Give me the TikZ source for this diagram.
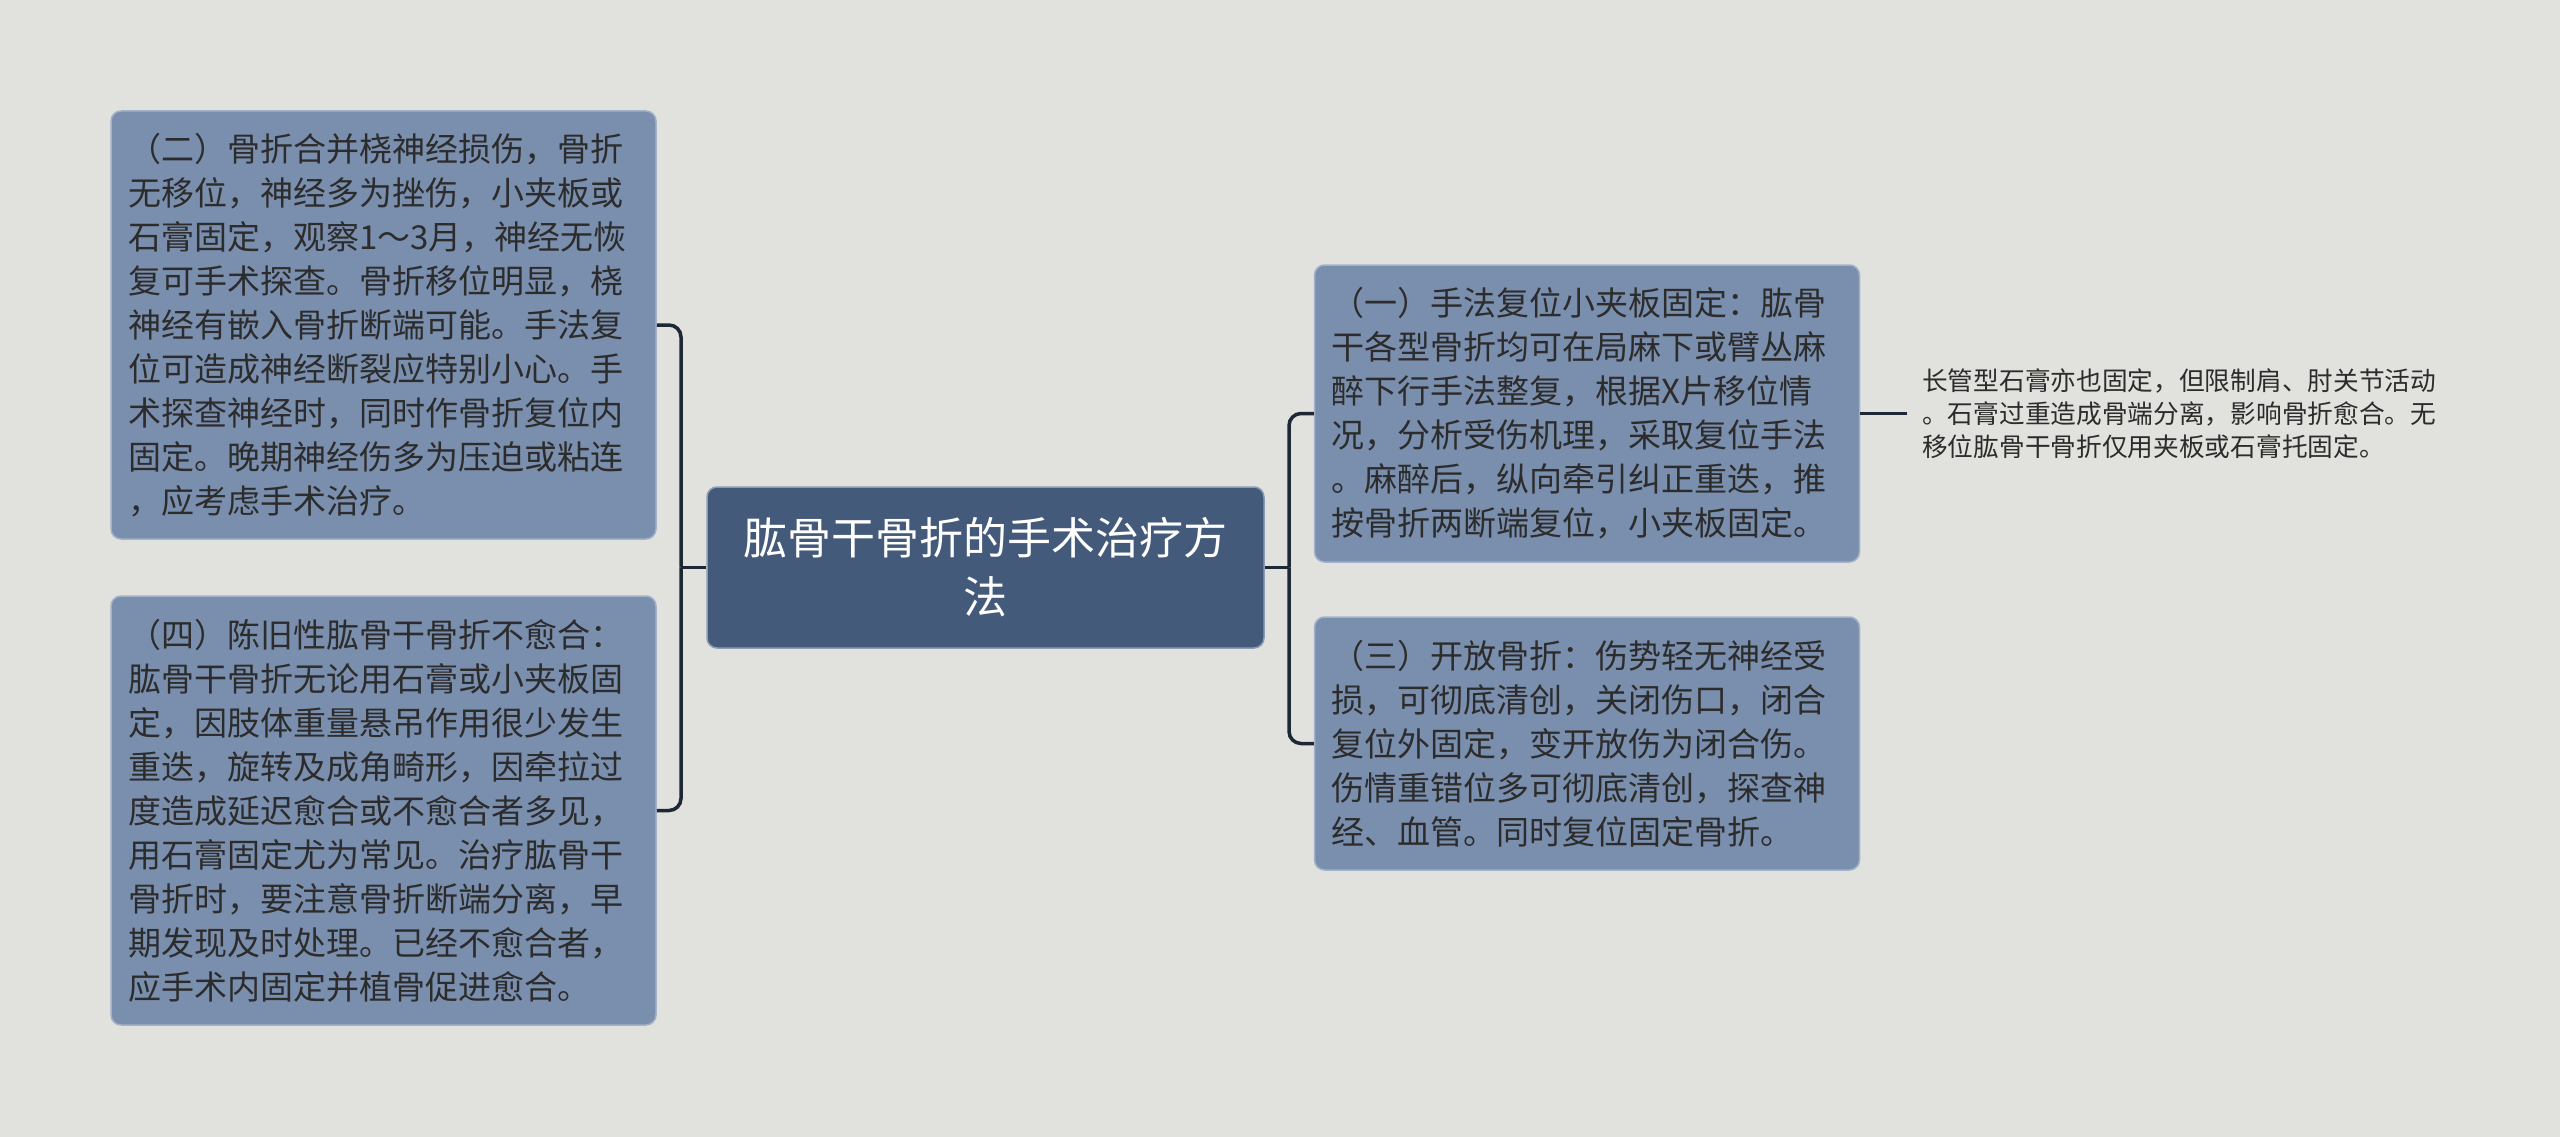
\documentclass[tikz,border=0pt]{standalone}
\usepackage{fontspec}
\setmainfont{Noto Sans CJK SC}
\definecolor{bgc}{HTML}{E1E2DE}
\definecolor{childfill}{HTML}{7A8EAD}
\definecolor{childline}{HTML}{A3B2C8}
\definecolor{rootfill}{HTML}{435A7A}
\definecolor{rootline}{HTML}{8C9CB5}
\definecolor{txt}{HTML}{2C2C2C}
\definecolor{conn}{HTML}{1D2735}
\tikzset{
  childbox/.style={rectangle, rounded corners=10pt, fill=childfill, draw=childline, line width=1.5pt,
    inner xsep=17pt, inner ysep=0pt, text width=511pt, minimum width=545pt, align=left, text=txt,
    font=\fontsize{33}{44}\selectfont},
  rootbox/.style={rectangle, rounded corners=10pt, fill=rootfill, draw=rootline, line width=1.5pt,
    inner xsep=20pt, inner ysep=0pt, text width=517pt, align=center, text=white,
    minimum height=161pt, font=\fontsize{44}{59}\selectfont},
  leaf/.style={rectangle, inner xsep=15pt, inner ysep=0pt, align=left, text=txt,
    font=\fontsize{25.7}{32.7}\selectfont},
  link/.style={draw=conn, line width=3.5pt},
  linkr/.style={link, rounded corners=12pt}
}
\begin{document}
\begin{tikzpicture}[x=1pt, y=-1pt]
\fill[bgc] (0,0) rectangle (2560,1137);
\useasboundingbox (0,0) rectangle (2560,1137);

\node[rootbox] (root) at (985.5,567.5) {肱骨干骨折的手术治疗方\\法};

\node[childbox, minimum height=428pt] (l1) at (383.5,325) {（二）骨折合并桡神经损伤，骨折\\无移位，神经多为挫伤，小夹板或\\石膏固定，观察1～3月，神经无恢\\复可手术探查。骨折移位明显，桡\\神经有嵌入骨折断端可能。手法复\\位可造成神经断裂应特别小心。手\\术探查神经时，同时作骨折复位内\\固定。晚期神经伤多为压迫或粘连\\，应考虑手术治疗。};

\node[childbox, minimum height=429pt] (l2) at (383.5,810.5) {（四）陈旧性肱骨干骨折不愈合：\\肱骨干骨折无论用石膏或小夹板固\\定，因肢体重量悬吊作用很少发生\\重迭，旋转及成角畸形，因牵拉过\\度造成延迟愈合或不愈合者多见，\\用石膏固定尤为常见。治疗肱骨干\\骨折时，要注意骨折断端分离，早\\期发现及时处理。已经不愈合者，\\应手术内固定并植骨促进愈合。};

\node[childbox, minimum height=297pt] (r1) at (1587,413.5) {（一）手法复位小夹板固定：肱骨\\干各型骨折均可在局麻下或臂丛麻\\醉下行手法整复，根据X片移位情\\况，分析受伤机理，采取复位手法\\。麻醉后，纵向牵引纠正重迭，推\\按骨折两断端复位，小夹板固定。};

\node[childbox, minimum height=253pt] (r2) at (1587,743.5) {（三）开放骨折：伤势轻无神经受\\损，可彻底清创，关闭伤口，闭合\\复位外固定，变开放伤为闭合伤。\\伤情重错位多可彻底清创，探查神\\经、血管。同时复位固定骨折。};

\node[leaf, anchor=west] (t1) at (1907,413.5) {长管型石膏亦也固定，但限制肩、肘关节活动\\。石膏过重造成骨端分离，影响骨折愈合。无\\移位肱骨干骨折仅用夹板或石膏托固定。};

\coordinate (lj) at (681,567.5);
\coordinate (rj) at (1289,567.5);

\draw[link] (root.west) -- (lj);
\draw[linkr] (lj) |- (l1.east);
\draw[linkr] (lj) |- (l2.east);
\draw[link] (root.east) -- (rj);
\draw[linkr] (rj) |- (r1.west);
\draw[linkr] (rj) |- (r2.west);
\draw[link] (r1.east) -- (t1.west);
\end{tikzpicture}
\end{document}
